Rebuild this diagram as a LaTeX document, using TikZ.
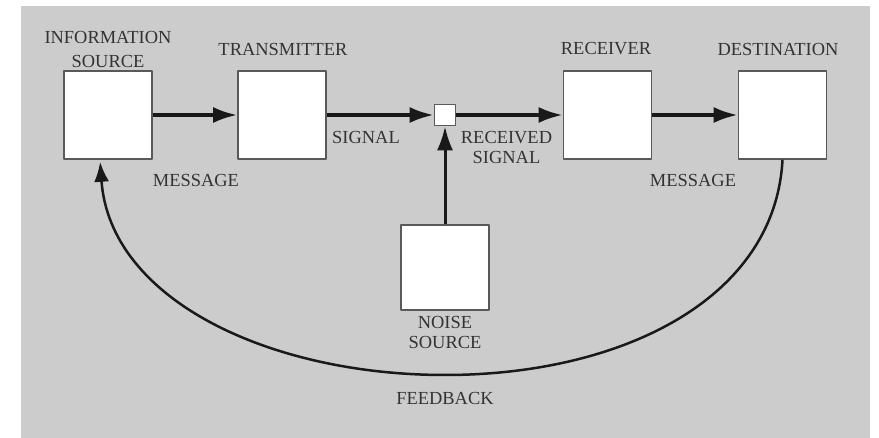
\documentclass[tikz,border=0pt]{standalone}
\usepackage{fontspec}
\setmainfont{Liberation Serif}
\usepackage{tikz}
\usetikzlibrary{arrows.meta}

\begin{document}
\begin{tikzpicture}[>={Latex[length=24bp,width=16bp]},line join=bevel,
  blockbox/.style={draw=black!65,fill=white,line width=1.6bp,inner sep=0pt,minimum width=88bp,minimum height=88bp},
  tag/.style={text=black!80,align=center,inner sep=0pt,font=\fontsize{18.5}{21}\selectfont},
  flow/.style={black!90,line width=3.5bp,->},
]
%%
\useasboundingbox (0bp,0bp) rectangle (879bp,438bp);
\fill [white] (0bp,0bp) rectangle (879bp,438bp);
\fill [black!20] (21bp,0bp) rectangle (870bp,432bp);
%%
\node (node_0) at (108bp,323bp) [blockbox] {};
  \node (node_1) at (282bp,323bp) [blockbox] {};
  \node (node_2) at (445bp,323bp) [blockbox,minimum width=21bp,minimum height=21bp] {};
  \node (node_3) at (607.5bp,323bp) [blockbox] {};
  \node (node_4) at (782.5bp,323bp) [blockbox] {};
  \node (node_5) at (445bp,170.5bp) [blockbox,minimum height=85bp] {};
%
\node (tag_0) at (108bp,388.5bp) [tag,font=\fontsize{18.5}{25}\selectfont] {INFORMATION\\SOURCE};
  \node (tag_1) at (283bp,389bp) [tag] {TRANSMITTER};
  \node (tag_3) at (606bp,389bp) [tag] {RECEIVER};
  \node (tag_4) at (778bp,389bp) [tag] {DESTINATION};
  \node (tag_5) at (445bp,105.5bp) [tag] {NOISE\\SOURCE};
  \node (tag_01) at (196bp,258bp) [tag] {MESSAGE};
  \node (tag_12) at (366bp,301bp) [tag] {SIGNAL};
  \node (tag_23) at (506.5bp,290.5bp) [tag] {RECEIVED\\SIGNAL};
  \node (tag_34) at (693bp,258bp) [tag] {MESSAGE};
  \node (tag_fb) at (445bp,40bp) [tag] {FEEDBACK};
%
\coordinate (fb_low) at (445bp,63bp);
  \draw [flow] (node_0) -- (node_1);
  \draw [flow] (node_1) -- (node_2);
  \draw [flow] (node_2) -- (node_3);
  \draw [flow] (node_3) -- (node_4);
  \draw [flow,line width=3bp] (node_5) -- (node_2);
  \draw [black!90,line width=2.5bp,->,>={Latex[length=20bp,width=15bp]},shorten >=2bp] (node_4.south) .. controls (775bp,138bp) and (620bp,63bp) .. (fb_low) .. controls (270bp,63bp) and (110bp,138bp) .. ([xshift=-8bp]node_0.south);
%
\end{tikzpicture}
\end{document}
